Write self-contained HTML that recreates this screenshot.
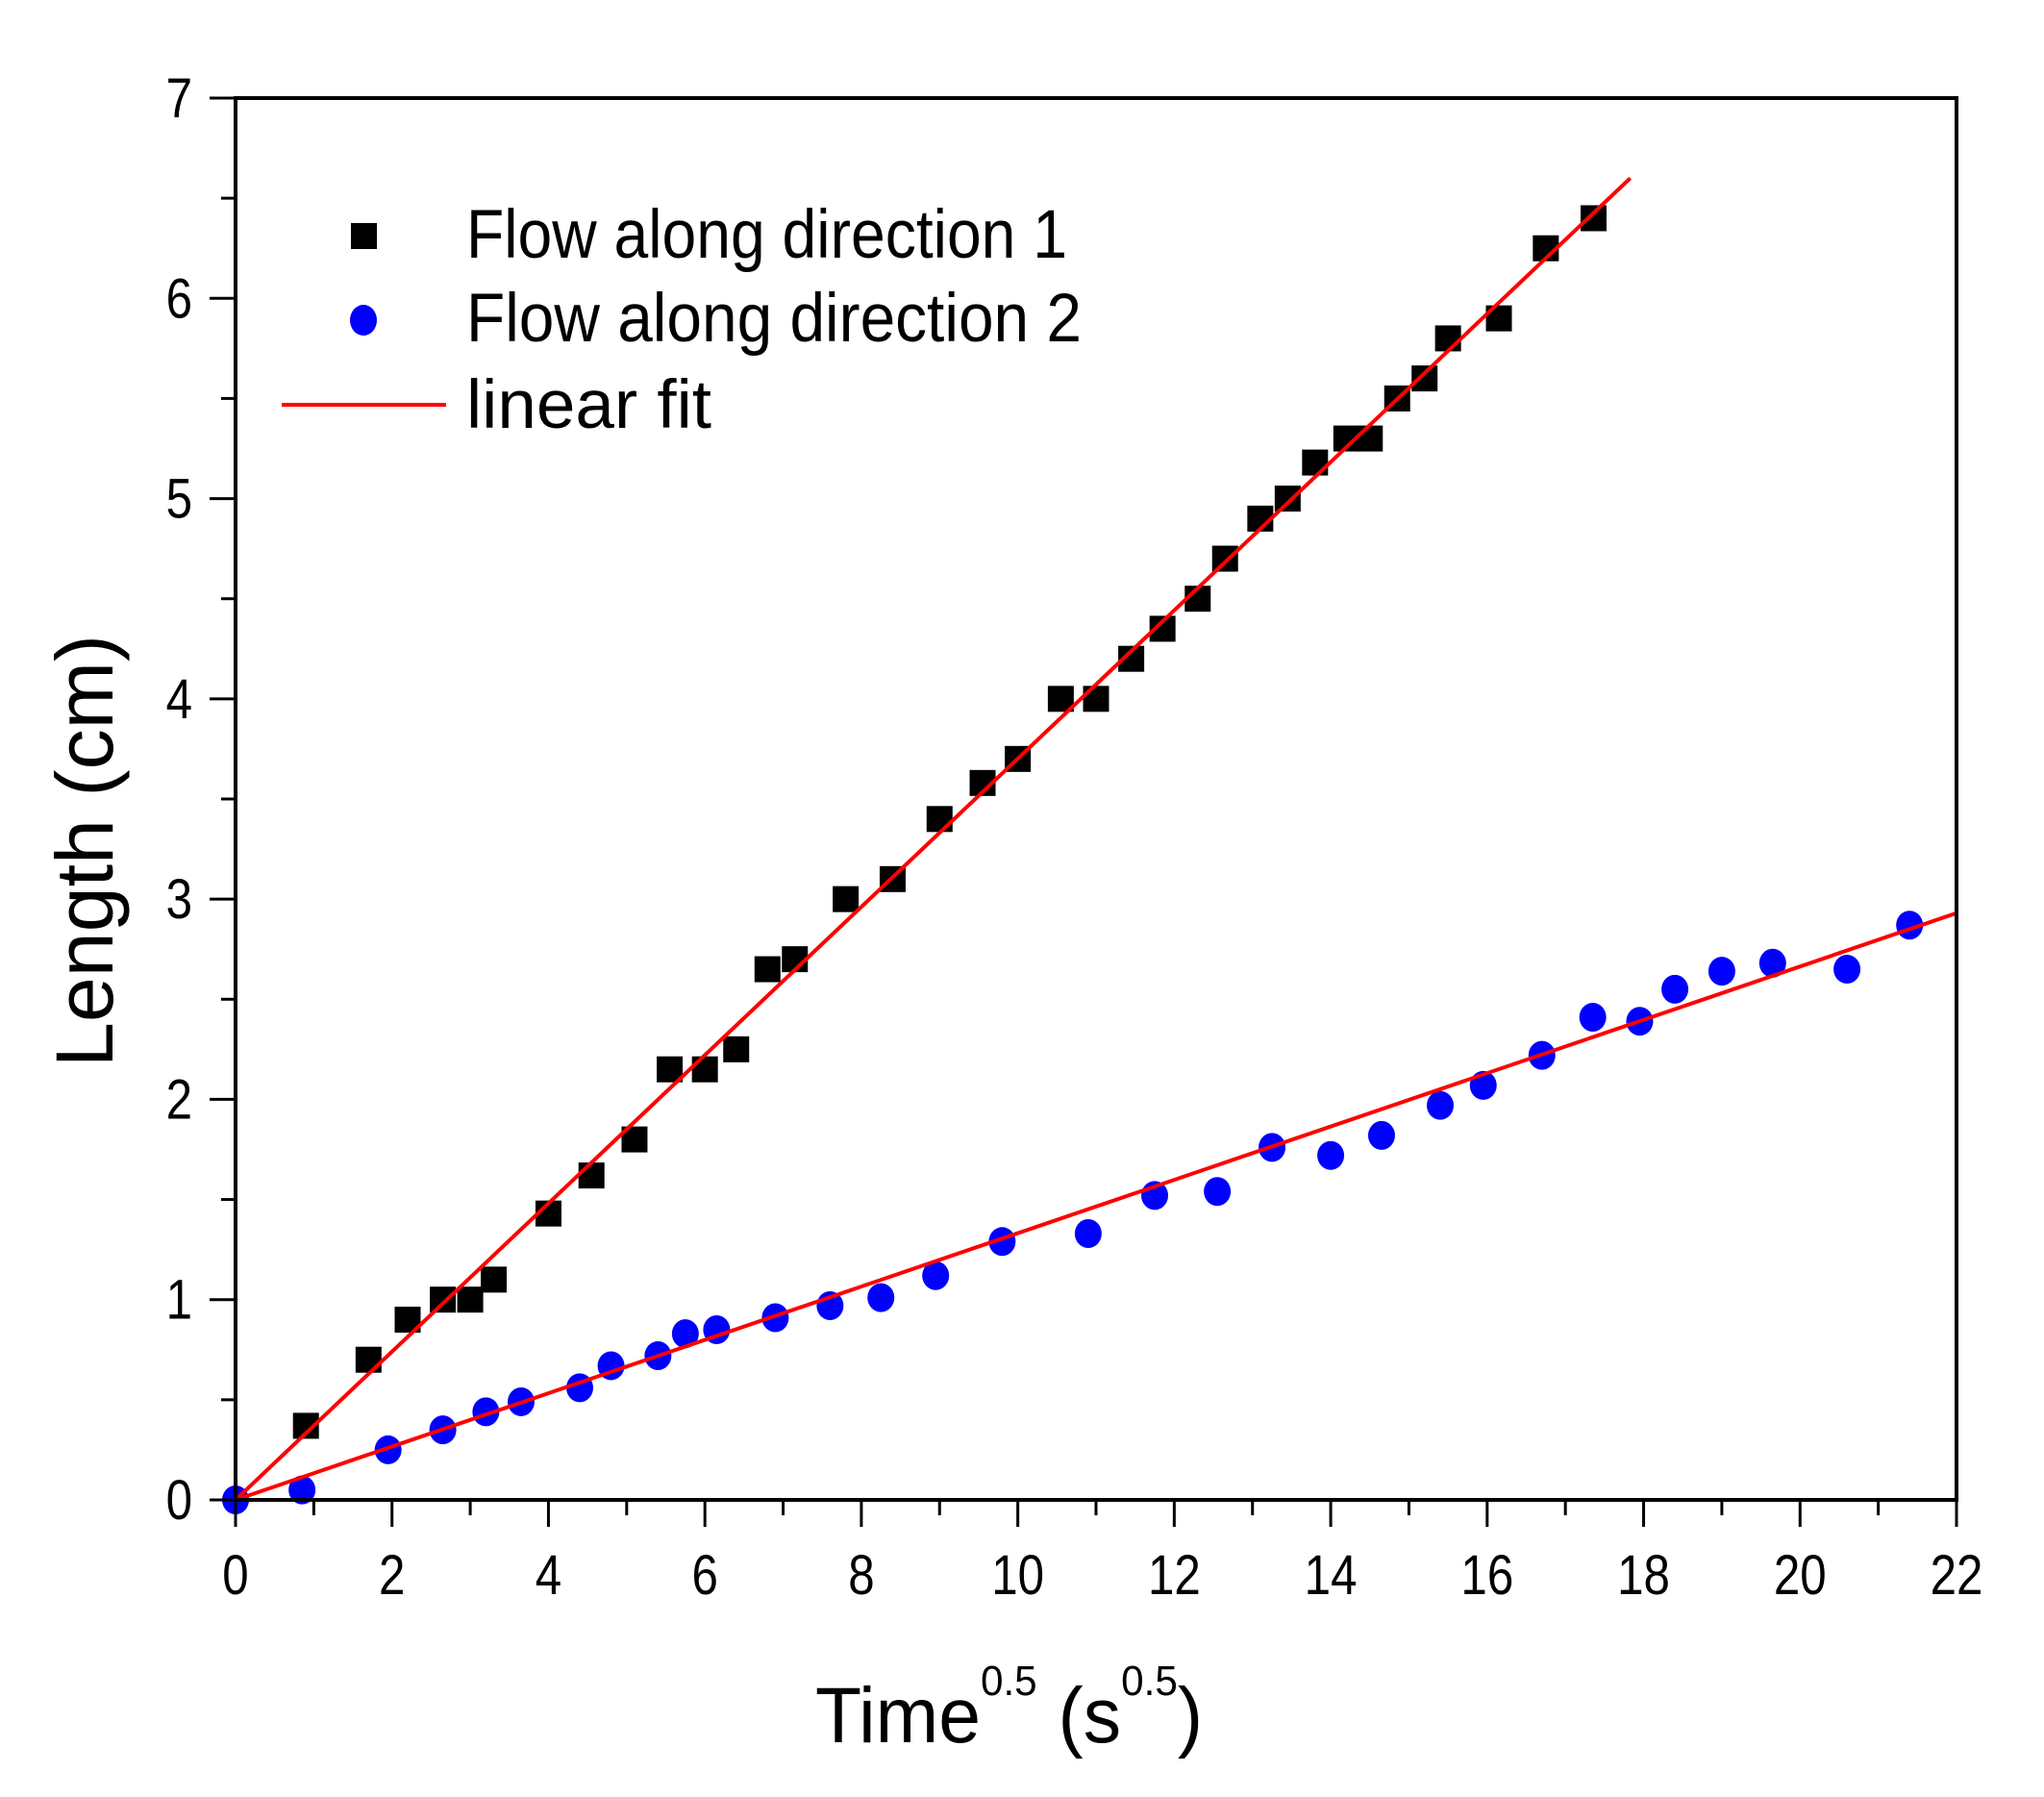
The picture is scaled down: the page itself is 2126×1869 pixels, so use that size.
<!DOCTYPE html>
<html><head><meta charset="utf-8"><style>
html,body{margin:0;padding:0;background:#fff;}
svg{display:block;font-family:"Liberation Sans",Arial,sans-serif;}
</style></head><body>
<svg id="chart" width="2126" height="1869" viewBox="0 0 2126 1869" xmlns="http://www.w3.org/2000/svg">
<rect width="2126" height="1869" fill="#fff"/>
<g id="marks"></g>
<g id="axes"></g>
<g>
  <rect x="365" y="232" width="27" height="27" fill="#000"/>
  <text x="485" y="268" font-size="71" textLength="625" lengthAdjust="spacingAndGlyphs">Flow along direction 1</text>
  <ellipse cx="378" cy="333" rx="14" ry="16" fill="#0000ff"/>
  <text x="485" y="355" font-size="71" textLength="640" lengthAdjust="spacingAndGlyphs">Flow along direction 2</text>
  <line x1="293" y1="421" x2="464" y2="421" stroke="#ff0000" stroke-width="4"/>
  <text x="485" y="445" font-size="71" textLength="255" lengthAdjust="spacingAndGlyphs">linear fit</text>
</g>
<text transform="translate(117,885) rotate(-90)" text-anchor="middle" font-size="84" textLength="450" lengthAdjust="spacingAndGlyphs">Length (cm)</text>
<g transform="translate(848,0) scale(0.96,1)">
<text x="0" y="1812" font-size="82">Time<tspan font-size="44" dy="-49">0.5</tspan><tspan dy="49"> (s</tspan><tspan font-size="44" dy="-49">0.5</tspan><tspan dy="49">)</tspan></text>
</g>
</svg>
<script>
const xTicks = [0,2,4,6,8,10,12,14,16,18,20,22];
const yTicks = [0,1,2,3,4,5,6,7];
const s1x = [0.9,1.7,2.2,2.65,3.0,3.3,4.0,4.55,5.1,5.55,6.0,6.4,6.8,7.15,7.8,8.4,9.0,9.55,10.0,10.55,11.0,11.45,11.85,12.3,12.65,13.1,13.45,13.8,14.2,14.5,14.85,15.2,15.5,16.15,16.75,17.36];
const s1y = [0.37,0.7,0.9,1.0,1.0,1.1,1.43,1.62,1.8,2.15,2.15,2.25,2.65,2.7,3.0,3.1,3.4,3.58,3.7,4.0,4.0,4.2,4.35,4.5,4.7,4.9,5.0,5.18,5.3,5.3,5.5,5.6,5.8,5.9,6.25,6.4];
const s2x = [0,0.85,1.95,2.65,3.2,3.65,4.4,4.8,5.4,5.75,6.15,6.9,7.6,8.25,8.95,9.8,10.9,11.75,12.55,13.25,14.0,14.65,15.4,15.95,16.7,17.35,17.95,18.4,19.0,19.65,20.6,21.4];
const s2y = [0,0.05,0.25,0.35,0.44,0.49,0.56,0.67,0.72,0.83,0.85,0.91,0.97,1.01,1.12,1.29,1.33,1.52,1.54,1.76,1.72,1.82,1.97,2.07,2.22,2.41,2.39,2.55,2.64,2.68,2.65,2.87];
const fit1 = [0,0,17.83,6.6];
const fit2 = [0,0,22,2.93];

const X0=245,X1=2035,Y0=1560,Y1=102;
const sx=v=>X0+(v-0)/(22-0)*(X1-X0);
const sy=v=>Y0-(v-0)/(7-0)*(Y0-Y1);
const NS="http://www.w3.org/2000/svg";
function mk(tag,attrs,parent){const e=document.createElementNS(NS,tag);for(const k in attrs)e.setAttribute(k,attrs[k]);parent.appendChild(e);return e;}
const marks=document.getElementById('marks'), axes=document.getElementById('axes');

s1x.forEach((x,i)=>{
  const r=mk('rect',{x:sx(x)-13.5,y:sy(s1y[i])-13.5,width:27,height:27,fill:'#000'},marks);
  
  
});
s2x.forEach((x,i)=>{
  const c=mk('ellipse',{cx:sx(x),cy:sy(s2y[i]),rx:14,ry:15,fill:'#0000ff'},marks);
  
  
});
[fit1,fit2].forEach(f=>{
  const l=mk('line',{x1:sx(f[0]),y1:sy(f[1]),x2:sx(f[2]),y2:sy(f[3]),stroke:'#ff0000','stroke-width':4},marks);
  
  
});
const fr=mk('rect',{x:X0,y:Y1,width:X1-X0,height:Y0-Y1,fill:'none',stroke:'#000','stroke-width':4},axes);


for(let v=0;v<=22;v++){
  const major=v%2===0;
  const t=mk('line',{x1:sx(v),y1:Y0,x2:sx(v),y2:Y0+(major?28:16),stroke:'#000','stroke-width':3},axes);
  
  
}
xTicks.forEach(v=>{
  const g=mk('g',{transform:'translate('+sx(v)+',1658) scale(0.85,1)'},axes);
  const t=mk('text',{x:0,y:0,'text-anchor':'middle','font-size':58},g);
  t.textContent=v;
  
  
});
for(let k=0;k<=14;k++){
  const v=k/2, major=k%2===0;
  const t=mk('line',{x1:X0-(major?27:15),y1:sy(v),x2:X0,y2:sy(v),stroke:'#000','stroke-width':3},axes);
  
  
}
yTicks.forEach(v=>{
  const g=mk('g',{transform:'translate(200,'+(sy(v)+20)+') scale(0.85,1)'},axes);
  const t=mk('text',{x:0,y:0,'text-anchor':'end','font-size':58},g);
  t.textContent=v;
  
  
});
</script>
</body></html>
